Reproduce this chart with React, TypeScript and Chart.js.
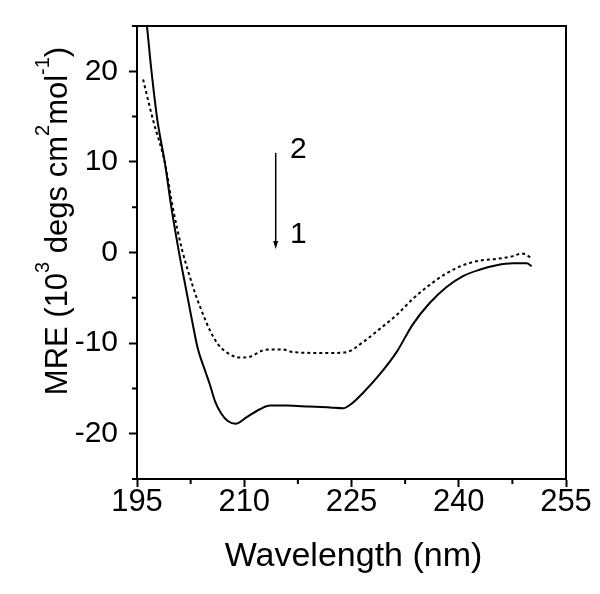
import React, { useEffect, useRef } from 'react';
import { Chart, registerables } from 'chart.js';

Chart.register(...registerables);

// ---- data ----
const solidWavelength = [195.7, 196.3, 197.0, 197.85, 198.9, 199.8, 200.9, 201.7, 202.6, 203.5, 204.5, 205.2, 205.9, 206.8, 207.7, 208.8, 210.3, 212.2, 213.6, 216.0, 219.0, 222.0, 223.8, 225.0, 226.6, 229.0, 231.3, 233.6, 235.9, 238.3, 240.6, 242.9, 245.3, 247.6, 249.5, 250.2];
const solidMRE = [27.6, 25.5, 20.2, 14.6, 9.9, 5.0, -0.1, -3.4, -7.1, -10.6, -13.0, -14.6, -16.4, -17.8, -18.6, -18.9, -18.2, -17.3, -16.9, -16.9, -17.0, -17.1, -17.2, -16.7, -15.5, -13.4, -11.0, -7.9, -5.6, -3.8, -2.6, -1.9, -1.4, -1.2, -1.2, -1.5];

const dottedWavelength = [195.85, 197.25, 198.9, 200.0, 201.3, 202.4, 203.3, 204.2, 205.2, 206.3, 207.5, 209.4, 210.8, 212.6, 213.6, 215.4, 216.8, 222.0, 224.3, 226.6, 229.0, 231.3, 233.6, 235.9, 238.3, 240.6, 242.9, 245.3, 247.6, 248.8, 250.2];
const dottedMRE = [19.1, 14.6, 9.9, 5.0, 0.3, -2.7, -4.9, -6.75, -8.6, -10.1, -11.0, -11.6, -11.5, -10.8, -10.7, -10.7, -11.0, -11.1, -11.0, -9.9, -8.4, -6.9, -5.1, -3.6, -2.3, -1.4, -0.9, -0.7, -0.4, -0.1, -0.6];

const xMin = 195;
const xMax = 255;
const xMajorStep = 15;
const yMin = -25;
const yMax = 25;
const yMajorStep = 10;

const xTitle = 'Wavelength (nm)';
const yTitleParts: { text: string; sup: boolean }[] = [
  { text: 'MRE (10', sup: false },
  { text: '3', sup: true },
  { text: ' degs cm', sup: false },
  { text: '2', sup: true },
  { text: 'mol', sup: false },
  { text: '-1', sup: true },
  { text: ')', sup: false },
];

// arrow annotation (data units)
const arrowWavelength = 214.4;
const arrowFromMRE = 11.0;
const arrowToMRE = 0.4;
const curveLabelText = ['2', '1'];
const curveLabelWavelength = [216.4, 216.4];
const curveLabelMRE = [10.4, 1.0];

const FONT = "'Liberation Sans', Arial, sans-serif";

const decorPlugin = {
  id: 'decor',
  afterDraw(chart: any) {
    const { ctx, chartArea } = chart;
    const xs = chart.scales.x;
    const ys = chart.scales.y;
    const { left, right, top, bottom } = chartArea;
    ctx.save();
    ctx.strokeStyle = '#000';
    ctx.fillStyle = '#000';
    ctx.lineWidth = 2;
    // frame
    ctx.beginPath();
    ctx.moveTo(left, top);
    ctx.lineTo(right, top);
    ctx.lineTo(right, bottom);
    ctx.stroke();
    // minor ticks
    ctx.beginPath();
    for (let v = yMin; v <= yMax + 1e-9; v += yMajorStep / 2) {
      if (Math.abs(v % yMajorStep) > 1e-6) {
        const py = ys.getPixelForValue(v);
        ctx.moveTo(left - 5, py);
        ctx.lineTo(left, py);
      }
    }
    for (let v = xMin; v <= xMax + 1e-9; v += xMajorStep / 2) {
      if (Math.abs((v - xMin) % xMajorStep) > 1e-6) {
        const px = xs.getPixelForValue(v);
        ctx.moveTo(px, bottom);
        ctx.lineTo(px, bottom + 5);
      }
    }
    ctx.stroke();

    // arrow
    const ax = xs.getPixelForValue(arrowWavelength);
    const ay1 = ys.getPixelForValue(arrowFromMRE);
    const ay2 = ys.getPixelForValue(arrowToMRE);
    ctx.lineWidth = 1.5;
    ctx.beginPath();
    ctx.moveTo(ax, ay1);
    ctx.lineTo(ax, ay2 - 6);
    ctx.stroke();
    ctx.beginPath();
    ctx.moveTo(ax - 2.5, ay2 - 8);
    ctx.lineTo(ax + 2.5, ay2 - 8);
    ctx.lineTo(ax, ay2);
    ctx.closePath();
    ctx.fill();

    // curve labels
    ctx.font = `30px ${FONT}`;
    ctx.textAlign = 'left';
    ctx.textBaseline = 'alphabetic';
    for (let i = 0; i < curveLabelText.length; i++) {
      ctx.fillText(curveLabelText[i], xs.getPixelForValue(curveLabelWavelength[i]), ys.getPixelForValue(curveLabelMRE[i]));
    }

    // x title
    ctx.font = `34px ${FONT}`;
    ctx.textAlign = 'center';
    ctx.fillText(xTitle, (left + right) / 2 + 2, 566);

    // y title with superscripts
    ctx.save();
    ctx.translate(67, 221);
    ctx.rotate(-Math.PI / 2);
    ctx.textAlign = 'left';
    const mainFont = `31px ${FONT}`;
    const supFont = `20px ${FONT}`;
    let total = 0;
    for (const p of yTitleParts) {
      ctx.font = p.sup ? supFont : mainFont;
      total += ctx.measureText(p.text).width;
    }
    let cx = -total / 2;
    for (const p of yTitleParts) {
      ctx.font = p.sup ? supFont : mainFont;
      ctx.fillText(p.text, cx, p.sup ? -18 : 0);
      cx += ctx.measureText(p.text).width;
    }
    ctx.restore();
    ctx.restore();
  },
};

export default function App() {
  const ref = useRef<HTMLCanvasElement | null>(null);
  useEffect(() => {
    if (!ref.current) return;
    const solidData = solidWavelength.map((x, i) => ({ x, y: solidMRE[i] }));
    const dottedData = dottedWavelength.map((x, i) => ({ x, y: dottedMRE[i] }));
    const chart = new Chart(ref.current, {
      type: 'line',
      data: {
        datasets: [
          {
            label: '1',
            data: solidData,
            borderColor: '#000',
            borderWidth: 2,
            pointRadius: 0,
            cubicInterpolationMode: 'monotone',
            fill: false,
          },
          {
            label: '2',
            data: dottedData,
            borderColor: '#000',
            borderWidth: 2,
            borderDash: [3, 3],
            pointRadius: 0,
            cubicInterpolationMode: 'monotone',
            fill: false,
          },
        ],
      },
      options: {
        animation: false,
        responsive: false,
        devicePixelRatio: 1,
        layout: { padding: { top: 25, right: 34, left: 0, bottom: 0 } },
        plugins: { legend: { display: false }, tooltip: { enabled: false }, title: { display: false } },
        scales: {
          x: {
            type: 'linear',
            min: xMin,
            max: xMax,
            afterFit: (s: any) => { s.height = 115; },
            border: { display: true, color: '#000', width: 2 },
            grid: {
              drawOnChartArea: false,
              drawTicks: true,
              tickLength: 8,
              tickWidth: 2,
              tickColor: (c: any) => (Math.abs((c.tick.value - xMin) % xMajorStep) < 1e-6 ? '#000' : 'rgba(0,0,0,0)'),
            },
            ticks: {
              stepSize: xMajorStep / 2,
              autoSkip: false,
              maxRotation: 0,
              color: '#000',
              padding: 0,
              font: { family: FONT, size: 31, lineHeight: 1 },
              callback: (v: any) => (Math.abs((v - xMin) % xMajorStep) < 1e-6 ? String(v) : ''),
            },
          },
          y: {
            type: 'linear',
            min: yMin,
            max: yMax,
            afterFit: (s: any) => { s.width = 137; },
            border: { display: true, color: '#000', width: 2 },
            grid: {
              drawOnChartArea: false,
              drawTicks: true,
              tickLength: 8,
              tickWidth: 2,
              tickColor: (c: any) => (Math.abs(c.tick.value % yMajorStep) < 1e-6 ? '#000' : 'rgba(0,0,0,0)'),
            },
            ticks: {
              stepSize: yMajorStep / 2,
              autoSkip: false,
              color: '#000',
              padding: 11,
              font: { family: FONT, size: 30, lineHeight: 1 },
              callback: (v: any) => (Math.abs(v % yMajorStep) < 1e-6 ? String(v) : ''),
            },
          },
        },
      },
      plugins: [decorPlugin],
    } as any);
    return () => chart.destroy();
  }, []);
  return (
    <div style={{ position: 'fixed', left: 0, top: 0, width: 600, height: 594, background: '#fff' }}>
      <canvas ref={ref} width={600} height={594} style={{ width: 600, height: 594, display: 'block' }} />
    </div>
  );
}
